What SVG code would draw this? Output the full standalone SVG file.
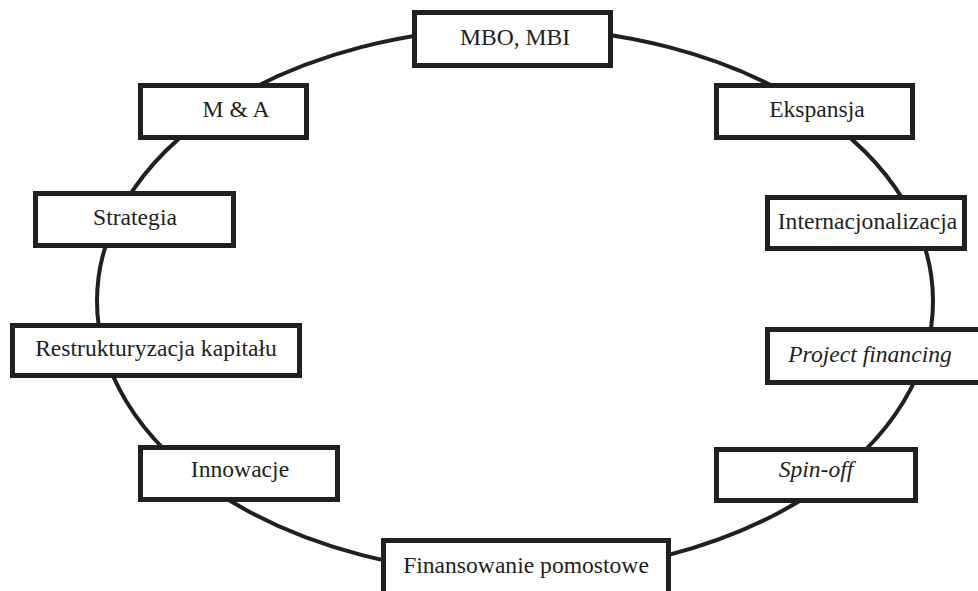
<svg xmlns="http://www.w3.org/2000/svg" width="978" height="591" viewBox="0 0 978 591">
<style>
.box{fill:#fff;stroke:#231f20;stroke-width:5}
.lbl{font-size:23.6px;fill:#231f20;text-anchor:middle}
.it{font-style:italic}
</style>
<rect x="0" y="0" width="978" height="591" fill="#fff"/>
<g id="connectors">
<ellipse cx="515" cy="301" rx="418" ry="273" fill="none" stroke="#231f20" stroke-width="4"/>
</g>
<g font-family="Liberation Serif, Tinos, Times New Roman, serif">
<g id="n-mbo"><rect class="box" x="414.5" y="12.5" width="196" height="53"/><text class="lbl" x="515" y="45">MBO, MBI</text></g>
<g id="n-ma"><rect class="box" x="140.5" y="85.5" width="166" height="52"/><text class="lbl" x="236" y="117">M &amp; A</text></g>
<g id="n-ekspansja"><rect class="box" x="716.5" y="85.5" width="196" height="52"/><text class="lbl" x="817" y="117">Ekspansja</text></g>
<g id="n-strategia"><rect class="box" x="35.5" y="193.5" width="198" height="52"/><text class="lbl" x="135" y="225">Strategia</text></g>
<g id="n-intern"><rect class="box" x="767.5" y="197.5" width="197" height="51"/><text class="lbl" x="867.5" y="229">Internacjonalizacja</text></g>
<g id="n-restr"><rect class="box" x="12.5" y="325.5" width="287" height="50"/><text class="lbl" x="156" y="356">Restrukturyzacja kapitału</text></g>
<g id="n-project"><rect class="box" x="767.5" y="329.5" width="230" height="53"/><text class="lbl it" x="870" y="362">Project financing</text></g>
<g id="n-innowacje"><rect class="box" x="140.5" y="447.5" width="197" height="52"/><text class="lbl" x="240" y="477">Innowacje</text></g>
<g id="n-spinoff"><rect class="box" x="716.5" y="449.5" width="199" height="51"/><text class="lbl it" x="816" y="477">Spin-off</text></g>
<g id="n-finans"><rect class="box" x="383.5" y="540.5" width="285" height="60"/><text class="lbl" x="526" y="573">Finansowanie pomostowe</text></g>
</g>
</svg>
